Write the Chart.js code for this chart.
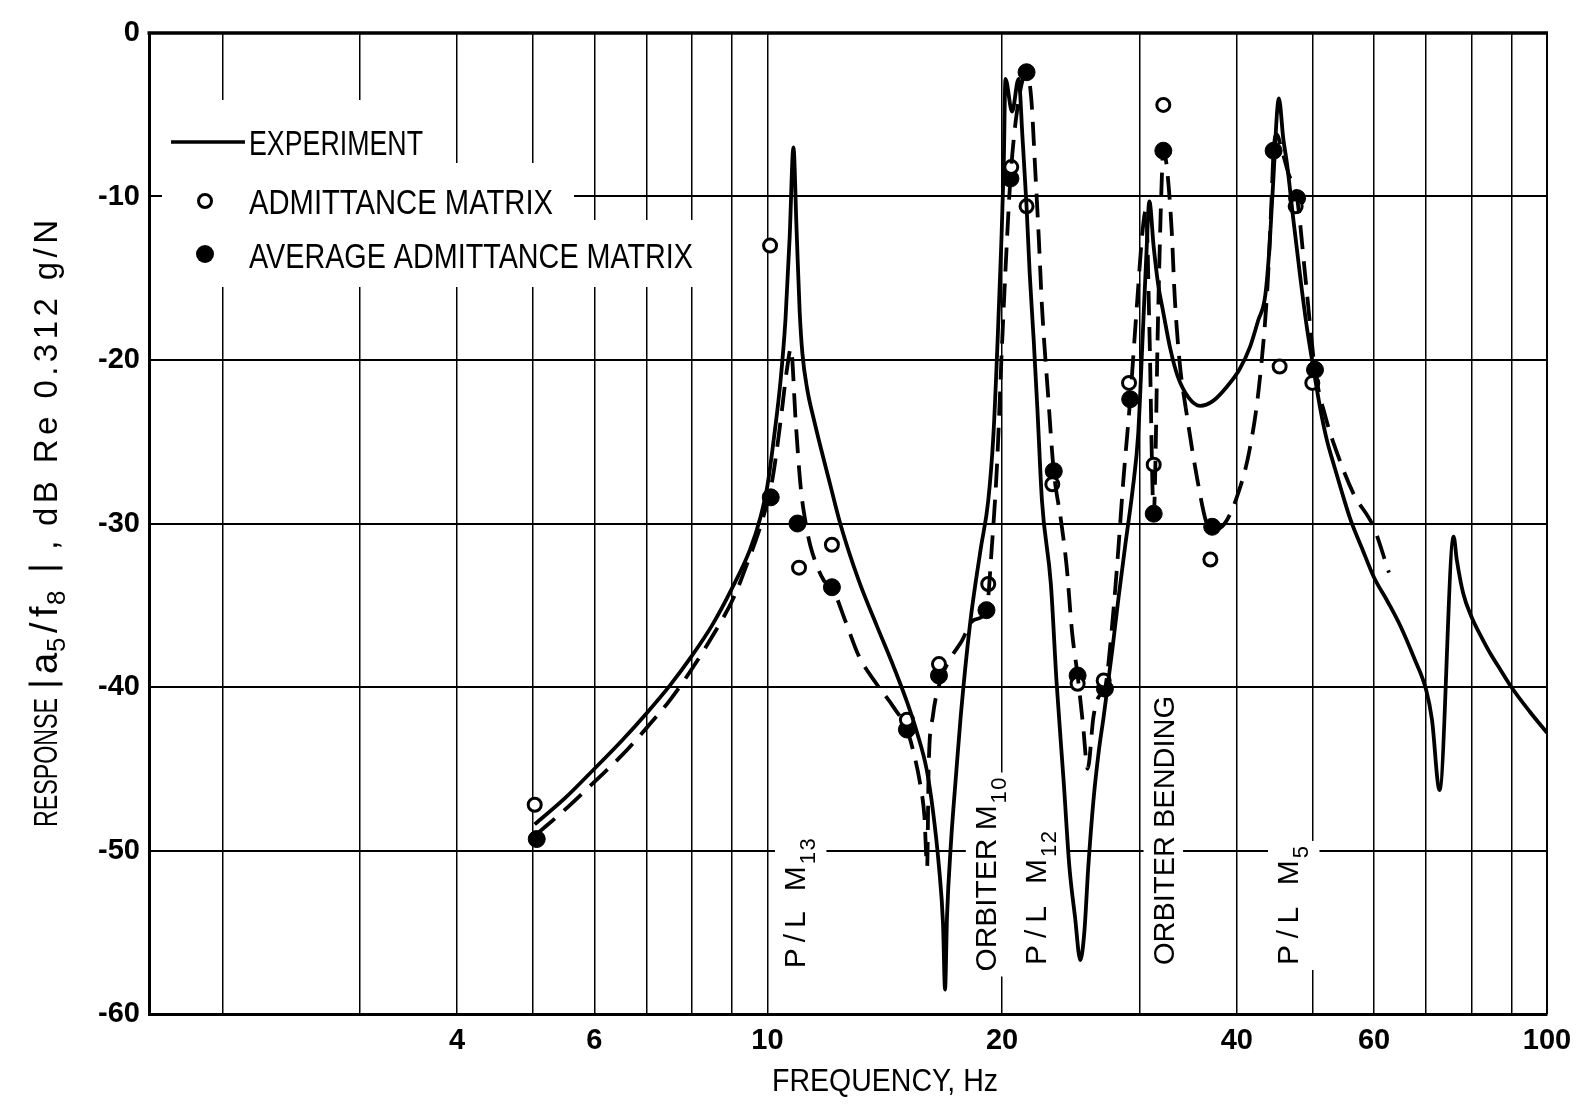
<!DOCTYPE html>
<html><head><meta charset="utf-8">
<script src="https://cdn.jsdelivr.net/npm/chart.js@4.4.1/dist/chart.umd.min.js"></script>
<style>html,body{margin:0;padding:0;background:#fff;}#wrap{width:1586px;height:1104px;}</style>
</head><body><div id="wrap"><canvas id="c" width="1586" height="1104"></canvas></div>
<script>
// ---------------- DATA ----------------
// Experiment (solid curve): frequency [Hz] and response [dB]
const expFreq = [5.03,5.5,6.0,6.5,7.0,7.5,8.0,8.5,9.0,9.5,9.8,10.0,10.2,10.4,10.55,10.68,10.8,10.9,11.0,11.09,11.25,11.48,12.05,12.4,13.1,13.8,14.53,15.1,15.56,16.0,16.3,16.6,16.8,16.9,17.0,17.2,17.45,17.7,18.2,18.77,19.2,19.5,19.75,19.95,20.1,20.2,20.6,21.0,21.25,21.5,21.7,21.96,22.2,22.5,23.1,23.5,24.0,24.4,24.8,25.2,25.5,25.8,26.2,26.6,27.0,27.7,28.2,28.8,29.4,29.9,30.3,30.6,30.9,31.3,31.7,32.2,32.9,33.6,34.7,35.9,37.3,38.9,40.3,41.6,42.6,43.5,44.0,44.5,45.3,45.9,46.4,47.3,48.3,49.2,50.2,51.2,52.2,53.2,54.5,56.0,58.0,60.0,62.5,64.9,67.5,70.0,71.2,72.8,75.9,76.6,78.1,80.0,82.3,84.7,87.3,90.0,95.0,100];
const expDb   = [-48.4,-46.8,-45.0,-43.3,-41.6,-39.9,-38.1,-36.2,-34.0,-31.6,-29.6,-27.7,-24.7,-21.2,-17.5,-12.5,-7.0,-12.0,-17.0,-19.6,-21.8,-23.7,-27.7,-30.0,-33.5,-36.2,-38.8,-40.9,-42.8,-45.0,-47.5,-51.0,-54.5,-58.5,-54.0,-49.5,-45.5,-41.8,-36.1,-31.6,-28.6,-24.5,-18.5,-13.0,-8.0,-2.8,-4.8,-2.8,-6.5,-10.6,-14.7,-18.8,-23.0,-28.6,-33.7,-39.8,-45.9,-51.0,-54.0,-56.7,-55.0,-51.0,-46.9,-44.0,-41.8,-37.7,-34.6,-31.2,-28.0,-24.5,-18.5,-14.0,-10.3,-13.1,-15.3,-17.1,-19.4,-21.0,-22.3,-22.8,-22.5,-21.6,-20.6,-19.2,-17.6,-16.1,-13.5,-9.5,-4.0,-6.5,-8.0,-11.5,-15.1,-18.0,-20.6,-23.0,-24.9,-26.3,-28.0,-29.8,-31.6,-33.3,-34.8,-36.3,-38.2,-40.2,-42.0,-46.3,-30.8,-32.2,-34.3,-35.7,-36.9,-38.0,-39.0,-40.0,-41.5,-42.8];

// Dashed curve (faired through average admittance matrix results)
const avgCurveFreq = [5.06,5.5,6.0,6.5,7.0,7.5,8.0,8.5,9.06,9.43,9.85,10.15,10.4,10.6,10.72,10.87,11.03,11.2,11.36,11.82,12.1,12.6,13.1,13.8,14.5,15.1,15.4,15.7,15.9,16.03,16.1,16.3,16.7,17.2,17.7,18.4,19.1,19.4,19.7,20.0,20.3,20.5,20.9,21.5,21.8,22.07,22.3,22.5,22.9,23.3,23.8,24.2,24.6,25.0,25.4,25.75,26.2,26.6,27.1,27.6,28.1,28.6,29.2,29.8,30.3,30.6,30.9,31.3,31.7,32.0,32.2,32.5,33.0,33.3,33.8,34.5,35.6,36.6,37.2,38.6,40.0,41.5,42.7,43.8,44.3,44.6,45.0,45.6,46.6,47.8,49.0,50.4,52.0,53.8,56.5,59.9,62.7];
const avgCurveDb   = [-49.0,-47.5,-45.8,-44.2,-42.5,-40.8,-38.9,-36.9,-34.5,-32.4,-29.8,-27.3,-23.7,-20.5,-19.3,-23.7,-27.7,-30.0,-31.4,-33.5,-33.9,-36.0,-38.1,-39.8,-41.2,-42.6,-44.0,-45.9,-47.9,-51.0,-45.0,-41.8,-39.5,-38.2,-37.3,-35.9,-35.3,-31.5,-26.5,-19.0,-12.5,-8.9,-4.8,-2.4,-4.0,-8.6,-12.7,-16.7,-22.0,-26.8,-29.8,-32.6,-36.7,-39.3,-42.3,-45.0,-41.8,-40.6,-40.1,-36.9,-32.5,-27.5,-22.4,-16.5,-12.0,-10.8,-18.0,-29.4,-17.5,-10.0,-7.2,-8.0,-12.0,-16.1,-20.2,-23.3,-27.3,-30.0,-30.4,-30.0,-28.4,-25.6,-21.7,-15.5,-10.5,-7.2,-6.2,-7.0,-8.6,-10.1,-15.0,-20.6,-23.5,-25.7,-28.2,-30.2,-33.0];

// Admittance matrix (open circles)
const admFreq = [5.03,10.08,10.98,12.1,15.1,16.6,19.2,20.55,21.5,23.2,25.0,27.0,29.1,31.3,32.2,37.0,45.4,47.6,50.0];
const admDb   = [-47.2,-13.0,-32.7,-31.3,-42.0,-38.6,-33.7,-8.2,-10.6,-27.6,-39.8,-39.6,-21.4,-26.4,-4.4,-32.2,-20.4,-10.6,-21.4];

// Average admittance matrix (filled circles)
const avgFreq = [5.06,10.1,10.93,12.1,15.1,16.6,19.1,20.5,21.5,23.3,25.0,27.1,29.2,31.3,32.2,37.2,44.6,47.8,50.4];
const avgDb   = [-49.3,-28.4,-30.0,-33.9,-42.6,-39.3,-35.3,-8.9,-2.4,-26.8,-39.3,-40.1,-22.4,-29.4,-7.2,-30.2,-7.2,-10.1,-20.6];

// Axis ticks
const xGridValues = [2,3,4,5,6,7,8,9,10,20,30,40,50,60,70,80,90,100];
const xTickLabels = [4,6,10,20,40,60,100];
const yTickValues = [-60,-50,-40,-30,-20,-10,0];

// Legend and mode annotations
const legendItems = ['EXPERIMENT','ADMITTANCE MATRIX','AVERAGE ADMITTANCE MATRIX'];
const modeLabels = [
  {text:'P/L M', sub:'13', freq:10.84, db:-57.2, len:130},
  {text:'ORBITER M', sub:'10', freq:19.05, db:-57.4, len:194},
  {text:'P/L M', sub:'12', freq:22.07, db:-57.0, len:134},
  {text:'ORBITER BENDING', sub:'', freq:32.2, db:-57.0, len:269},
  {text:'P/L M', sub:'5', freq:46.5, db:-57.0, len:119}
];

const FAM = '"Liberation Sans", Arial, sans-serif';

// draw text so that it spans "target" px: condense horizontally if too long, add spacing if too short
function drawFit(ctx, text, x, y, font, target){
  ctx.font = font;
  if ('letterSpacing' in ctx) ctx.letterSpacing = '0px';
  const w = ctx.measureText(text).width;
  if (!target || Math.abs(target - w) < 0.5){ ctx.fillText(text, x, y); return w; }
  if (target < w || text.length < 2){
    ctx.save(); ctx.translate(x, y); ctx.scale(target / w, 1); ctx.fillText(text, 0, 0); ctx.restore();
  } else {
    const sp = (target - w) / (text.length - 1);
    let cx = x;
    for (const ch of text){ ctx.fillText(ch, cx, y); cx += ctx.measureText(ch).width + sp; }
  }
  return target;
}
function natW(ctx, text, font){ ctx.font=font; if('letterSpacing' in ctx) ctx.letterSpacing='0px'; return ctx.measureText(text).width; }

// -------------- PLUGIN --------------
const decor = {
  id:'decor',
  beforeDatasetsDraw(chart){
    const ctx = chart.ctx, a = chart.chartArea;
    const xs = chart.scales.x, ys = chart.scales.y;
    ctx.save();
    ctx.strokeStyle='#000'; ctx.lineCap='butt';
    ctx.lineWidth=3.5; ctx.beginPath(); ctx.moveTo(a.left-1.5, a.top); ctx.lineTo(a.right+1, a.top); ctx.stroke();
    ctx.lineWidth=2; ctx.beginPath(); ctx.moveTo(a.right, a.top); ctx.lineTo(a.right, a.bottom); ctx.stroke();

    // legend
    const L=a.left, T=a.top;
    ctx.fillStyle='#fff';
    ctx.fillRect(L+11, T+67, 285, 72);
    ctx.fillRect(L+13, T+130, 412, 68);
    ctx.fillRect(L+13, T+187, 543, 67);
    ctx.fillStyle='#000'; ctx.textAlign='left'; ctx.textBaseline='alphabetic';
    const lf = '35px '+FAM, cap=0.358*35;
    ctx.lineWidth=3.5; ctx.beginPath(); ctx.moveTo(L+22, T+109); ctx.lineTo(L+96, T+109); ctx.stroke();
    drawFit(ctx, legendItems[0], L+100, T+109+cap, lf, 174);
    ctx.lineWidth=3; ctx.fillStyle='#fff'; ctx.beginPath(); ctx.arc(L+56, T+168, 6.5, 0, Math.PI*2); ctx.fill(); ctx.stroke();
    ctx.fillStyle='#000';
    drawFit(ctx, legendItems[1], L+100, T+168+cap, lf, 304);
    ctx.beginPath(); ctx.arc(L+56, T+221, 9, 0, Math.PI*2); ctx.fill();
    drawFit(ctx, legendItems[2], L+100, T+222+cap, lf, 444);

    // rotated mode labels
    const ms = 30, mf = ms+'px '+FAM, sf = '22px '+FAM, mcap = 0.358*ms;
    for (const m of modeLabels){
      const xc = xs.getPixelForValue(m.freq), yb = ys.getPixelForValue(m.db);
      const subW = m.sub ? natW(ctx, m.sub, sf) + (m.sub.length-1)*1.5 : 0;
      const mainLen = m.len - (m.sub ? subW + 2 : 0);
      ctx.save();
      ctx.translate(xc, yb); ctx.rotate(-Math.PI/2);
      ctx.fillStyle='#fff';
      ctx.fillRect(-5, -mcap-9, m.len+10, mcap*2 + (m.sub?12:0) + 18);
      ctx.fillStyle='#000';
      drawFit(ctx, m.text, 0, mcap, mf, mainLen);
      if (m.sub) drawFit(ctx, m.sub, mainLen+2, mcap+10, sf, m.sub.length>1 ? subW : 0);
      ctx.restore();
    }
    ctx.restore();
  },
  afterDraw(chart){
    const ctx = chart.ctx, a = chart.chartArea;
    ctx.save();
    ctx.fillStyle='#000'; ctx.strokeStyle='#000'; ctx.textAlign='left'; ctx.textBaseline='alphabetic';
    // x title
    drawFit(ctx, 'FREQUENCY, Hz', a.left+623, 1080+0.358*32, '32px '+FAM, 226);
    // y title, rotated, reading bottom to top
    ctx.translate(45.5, 827); ctx.rotate(-Math.PI/2);
    const s = 33, base = 0.358*s;
    drawFit(ctx, 'RESPONSE', 0, base, s+'px '+FAM, 129);
    ctx.lineWidth=3;
    ctx.beginPath(); ctx.moveTo(143, -17); ctx.lineTo(143, 17); ctx.stroke();
    drawFit(ctx, 'a', 153, base, '38px '+FAM, 0);
    drawFit(ctx, '5', 175, base+8, '26px '+FAM, 0);
    drawFit(ctx, '/', 194, base, '38px '+FAM, 0);
    drawFit(ctx, 'f', 210, base, '38px '+FAM, 0);
    drawFit(ctx, '8', 222, base+8, '26px '+FAM, 0);
    ctx.beginPath(); ctx.moveTo(259, -17); ctx.lineTo(259, 17); ctx.stroke();
    drawFit(ctx, ',', 277, base, '34px '+FAM, 0);
    drawFit(ctx, 'dB Re 0.312 g/N', 301, base, s+'px '+FAM, 306);
    ctx.restore();
  }
};

const pts = (fs, ds) => fs.map((f,i)=>({x:f, y:ds[i]}));
const tickFont = {family:'Liberation Sans', size:29, weight:'bold'};

new Chart(document.getElementById('c'), {
  type:'line',
  data:{ datasets:[
    {label:'EXPERIMENT', data:pts(expFreq, expDb), borderColor:'#000', borderWidth:3.8, pointRadius:0, cubicInterpolationMode:'monotone', fill:false},
    {label:'AVERAGE ADMITTANCE MATRIX (faired curve)', data:pts(avgCurveFreq, avgCurveDb), borderColor:'#000', borderWidth:3.8, borderDash:[24,12], pointRadius:0, cubicInterpolationMode:'monotone', fill:false},
    {label:'ADMITTANCE MATRIX', data:pts(admFreq, admDb), showLine:false, pointRadius:6.5, pointBorderWidth:3, pointBackgroundColor:'#fff', pointBorderColor:'#000'},
    {label:'AVERAGE ADMITTANCE MATRIX', data:pts(avgFreq, avgDb), showLine:false, pointRadius:8.5, pointBorderWidth:1, pointBackgroundColor:'#000', pointBorderColor:'#000'}
  ]},
  options:{
    responsive:false, animation:false, devicePixelRatio:1,
    layout:{padding:{top:33, right:39, left:0, bottom:0}},
    plugins:{legend:{display:false}, tooltip:{enabled:false}},
    scales:{
      x:{type:'logarithmic', min:1.61, max:100,
        afterBuildTicks:s=>{ s.ticks = xGridValues.map(v=>({value:v})); },
        afterFit:s=>{ s.height = 90; },
        ticks:{autoSkip:false, maxRotation:0, minRotation:0, padding:10, color:'#000', font:tickFont,
          callback:(v)=> xTickLabels.includes(Number(v)) ? String(v) : ''},
        grid:{color:'#000', lineWidth:1.5, drawTicks:false},
        border:{color:'#000', width:3}
      },
      y:{type:'linear', min:-60, max:0,
        afterBuildTicks:s=>{ s.ticks = yTickValues.map(v=>({value:v})); },
        afterFit:s=>{ s.width = 149; },
        ticks:{padding:9, color:'#000', font:tickFont,
          callback:(v)=> v===0 ? '0' : '-' + Math.abs(v)},
        grid:{color:'#000', lineWidth:2, drawTicks:false},
        border:{color:'#000', width:3}
      }
    }
  },
  plugins:[decor]
});
</script>
</body></html>
